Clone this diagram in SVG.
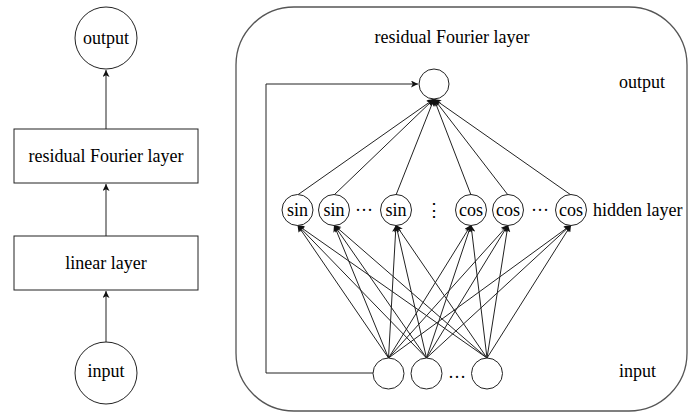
<svg xmlns="http://www.w3.org/2000/svg" width="700" height="420" viewBox="0 0 700 420">
<style>
.n{fill:#fff;stroke:#222;stroke-width:1}
.t{font-family:"Liberation Serif","Times New Roman",serif;font-size:18px;fill:#000;text-anchor:middle}
.l{font-family:"Liberation Serif","Times New Roman",serif;font-size:18px;fill:#000;text-anchor:start}
.c{fill:none;stroke:#222;stroke-width:1}
.frame{fill:none;stroke:#555;stroke-width:1.3}
</style>
<defs>
<marker id="ah" viewBox="0 0 10 10" refX="10" refY="5" markerWidth="8" markerHeight="7" markerUnits="userSpaceOnUse" orient="auto">
<path d="M0,0 L10,5 L0,10 L2.5,5 Z" fill="#111"/>
</marker>
</defs>
<rect width="700" height="420" fill="#fff"/>
<g id="frame"><rect class="frame" x="236" y="7" width="451" height="404" rx="58" ry="58"/></g>
<g id="connectors">
<line class="c" x1="106" y1="129" x2="106" y2="70" marker-end="url(#ah)"/>
<line class="c" x1="106" y1="236" x2="106" y2="184" marker-end="url(#ah)"/>
<line class="c" x1="106" y1="342" x2="106" y2="291" marker-end="url(#ah)"/>
<polyline class="c" points="373,373 266,373 266,84 418,84" marker-end="url(#ah)"/>
<line class="c" x1="297.5" y1="195" x2="434" y2="99" marker-end="url(#ah)"/>
<line class="c" x1="334" y1="195" x2="434" y2="99" marker-end="url(#ah)"/>
<line class="c" x1="396" y1="195" x2="434" y2="99" marker-end="url(#ah)"/>
<line class="c" x1="471" y1="195" x2="434" y2="99" marker-end="url(#ah)"/>
<line class="c" x1="508" y1="195" x2="434" y2="99" marker-end="url(#ah)"/>
<line class="c" x1="571" y1="195" x2="434" y2="99" marker-end="url(#ah)"/>
<g>
<line class="c" x1="388.5" y1="358" x2="297.5" y2="225" marker-end="url(#ah)"/>
<line class="c" x1="426.5" y1="358" x2="297.5" y2="225" marker-end="url(#ah)"/>
<line class="c" x1="487" y1="358" x2="297.5" y2="225" marker-end="url(#ah)"/>
<line class="c" x1="388.5" y1="358" x2="334" y2="225" marker-end="url(#ah)"/>
<line class="c" x1="426.5" y1="358" x2="334" y2="225" marker-end="url(#ah)"/>
<line class="c" x1="487" y1="358" x2="334" y2="225" marker-end="url(#ah)"/>
<line class="c" x1="388.5" y1="358" x2="396" y2="225" marker-end="url(#ah)"/>
<line class="c" x1="426.5" y1="358" x2="396" y2="225" marker-end="url(#ah)"/>
<line class="c" x1="487" y1="358" x2="396" y2="225" marker-end="url(#ah)"/>
<line class="c" x1="388.5" y1="358" x2="471" y2="225" marker-end="url(#ah)"/>
<line class="c" x1="426.5" y1="358" x2="471" y2="225" marker-end="url(#ah)"/>
<line class="c" x1="487" y1="358" x2="471" y2="225" marker-end="url(#ah)"/>
<line class="c" x1="388.5" y1="358" x2="508" y2="225" marker-end="url(#ah)"/>
<line class="c" x1="426.5" y1="358" x2="508" y2="225" marker-end="url(#ah)"/>
<line class="c" x1="487" y1="358" x2="508" y2="225" marker-end="url(#ah)"/>
<line class="c" x1="388.5" y1="358" x2="571" y2="225" marker-end="url(#ah)"/>
<line class="c" x1="426.5" y1="358" x2="571" y2="225" marker-end="url(#ah)"/>
<line class="c" x1="487" y1="358" x2="571" y2="225" marker-end="url(#ah)"/>
</g>
</g>
<g id="left-output"><circle class="n" cx="106" cy="38" r="31"/><text class="t" x="106" y="44">output</text></g>
<g id="left-residual"><rect class="n" x="14" y="129" width="184" height="54"/><text class="t" x="106" y="162">residual Fourier layer</text></g>
<g id="left-linear"><rect class="n" x="14" y="236" width="184" height="54"/><text class="t" x="106" y="269">linear layer</text></g>
<g id="left-input"><circle class="n" cx="106" cy="373" r="31"/><text class="t" x="106" y="377">input</text></g>
<g id="title"><text class="t" x="452" y="43">residual Fourier layer</text></g>
<g id="out-node"><circle class="n" cx="434" cy="84" r="15"/></g>
<g id="h1"><circle class="n" cx="297.5" cy="210" r="15.5"/><text class="t" x="297.5" y="216">sin</text></g>
<g id="h2"><circle class="n" cx="334" cy="210" r="15.5"/><text class="t" x="334" y="216">sin</text></g>
<g id="h3"><circle class="n" cx="396" cy="210" r="15.5"/><text class="t" x="396" y="216">sin</text></g>
<g id="h4"><circle class="n" cx="471" cy="210" r="15.5"/><text class="t" x="471" y="216">cos</text></g>
<g id="h5"><circle class="n" cx="508" cy="210" r="15.5"/><text class="t" x="508" y="216">cos</text></g>
<g id="h6"><circle class="n" cx="571" cy="210" r="15.5"/><text class="t" x="571" y="216">cos</text></g>
<g id="dots"><text class="t" x="364" y="216">···</text><text class="t" x="540" y="216">···</text><text class="t" x="434" y="216">⋮</text><text class="t" x="457" y="378">…</text></g>
<g id="i1"><circle class="n" cx="388.5" cy="373.5" r="15.5"/></g>
<g id="i2"><circle class="n" cx="426.5" cy="373.5" r="15.5"/></g>
<g id="i3"><circle class="n" cx="487" cy="373.5" r="15.5"/></g>
<g id="labels"><text class="l" x="619" y="88">output</text><text class="l" x="593" y="216">hidden layer</text><text class="l" x="619" y="377">input</text></g>
</svg>
